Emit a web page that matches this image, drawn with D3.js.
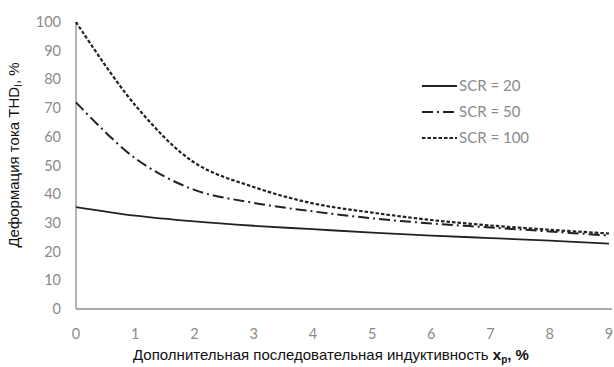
<!DOCTYPE html>
<html>
<head>
<meta charset="utf-8">
<script src="https://cdn.jsdelivr.net/npm/d3@7"></script>
<style>
  body { margin: 0; background: #fff; }
  svg { display: block; }
</style>
</head>
<body>
<div id="chart"></div>
<script>
// x values (additional series inductance, %)
var xp = [0, 1, 2, 3, 4, 5, 6, 7, 8, 9];
var scr20  = [35.5, 32.5, 30.5, 29, 27.8, 26.6, 25.6, 24.7, 23.8, 22.8];
var scr50  = [72, 52.5, 41.5, 37, 34, 31.6, 29.8, 28.4, 27, 25.6];
var scr100 = [100, 71, 51, 42.5, 36.8, 33.6, 31, 29.1, 27.6, 26.3];
var seriesNames = ["SCR = 20", "SCR = 50", "SCR = 100"];
var yTicks = [0, 10, 20, 30, 40, 50, 60, 70, 80, 90, 100];

var W = 614, H = 367;
var margin = {top: 22, right: 5, bottom: 58, left: 76};

var svg = d3.select("#chart").append("svg").attr("width", W).attr("height", H);

var x = d3.scaleLinear().domain([0, 9]).range([margin.left, 609]);
var y = d3.scaleLinear().domain([0, 100]).range([H - margin.bottom, margin.top]);

var labelFont = "Lato, 'Open Sans', sans-serif";

// axes lines
svg.append("line")
  .attr("x1", x(0)).attr("x2", 612)
  .attr("y1", y(0)).attr("y2", y(0))
  .attr("stroke", "#8c8c8c").attr("stroke-width", 1.3);
svg.append("line")
  .attr("x1", x(0)).attr("x2", x(0))
  .attr("y1", y(0)).attr("y2", y(100))
  .attr("stroke", "#8c8c8c").attr("stroke-width", 1.3);

// y tick labels
svg.selectAll(".ytick").data(yTicks).enter().append("text")
  .attr("class", "ytick")
  .attr("x", 61)
  .attr("y", function(d) { return y(d) + 5; })
  .attr("text-anchor", "end")
  .attr("font-family", labelFont)
  .attr("font-size", "14.5px")
  .attr("fill", "#8a8a8a")
  .text(function(d) { return d; });

// x tick labels
svg.selectAll(".xtick").data(xp).enter().append("text")
  .attr("class", "xtick")
  .attr("x", function(d) { return x(d); })
  .attr("y", 339)
  .attr("text-anchor", "middle")
  .attr("font-family", labelFont)
  .attr("font-size", "14.5px")
  .attr("fill", "#8a8a8a")
  .text(function(d) { return d; });

var series = [
  {name: seriesNames[0], values: scr20,  dash: null,         width: 1.8},
  {name: seriesNames[1], values: scr50,  dash: "11,4,2,4",   width: 2},
  {name: seriesNames[2], values: scr100, dash: "3.5,2",      width: 2.2}
];

var line = d3.line()
  .x(function(d) { return x(d[0]); })
  .y(function(d) { return y(d[1]); })
  .curve(d3.curveCatmullRom.alpha(0.5));

series.forEach(function(s) {
  svg.append("path")
    .datum(xp.map(function(v, i) { return [v, s.values[i]]; }))
    .attr("d", line)
    .attr("fill", "none")
    .attr("stroke", "#222")
    .attr("stroke-width", s.width)
    .attr("stroke-dasharray", s.dash);
});

// legend
var lg = svg.append("g").attr("transform", "translate(422,86)");
series.forEach(function(s, i) {
  var row = lg.append("g").attr("transform", "translate(0," + (i * 26) + ")");
  row.append("line")
    .attr("x1", 0).attr("x2", 35).attr("y1", 0).attr("y2", 0)
    .attr("stroke", "#222").attr("stroke-width", s.width)
    .attr("stroke-dasharray", s.dash);
  row.append("text")
    .attr("x", 37).attr("y", 5)
    .attr("font-family", labelFont)
    .attr("font-size", "15px")
    .attr("fill", "#8a8a8a")
    .text(s.name);
});

// y axis title
var yt = svg.append("text")
  .attr("transform", "translate(19,155) rotate(-90)")
  .attr("text-anchor", "middle")
  .attr("font-family", "'Liberation Sans', Arial, sans-serif")
  .attr("font-size", "15px")
  .attr("fill", "#111");
yt.append("tspan").text("Деформация тока THD");
yt.append("tspan").attr("font-size", "10px").attr("dy", 3).text("I");
yt.append("tspan").attr("dy", -3).text(", %");

// x axis title
var xt = svg.append("text")
  .attr("x", 331).attr("y", 360)
  .attr("text-anchor", "middle")
  .attr("font-family", "'Liberation Sans', Arial, sans-serif")
  .attr("font-size", "15px")
  .attr("fill", "#111");
xt.append("tspan").text("Дополнительная последовательная индуктивность ");
xt.append("tspan").attr("font-weight", "bold").text("x");
xt.append("tspan").attr("font-weight", "bold").attr("font-size", "10px").attr("dy", 3).text("p");
xt.append("tspan").attr("font-weight", "bold").attr("dy", -3).text(", %");
</script>
</body>
</html>
